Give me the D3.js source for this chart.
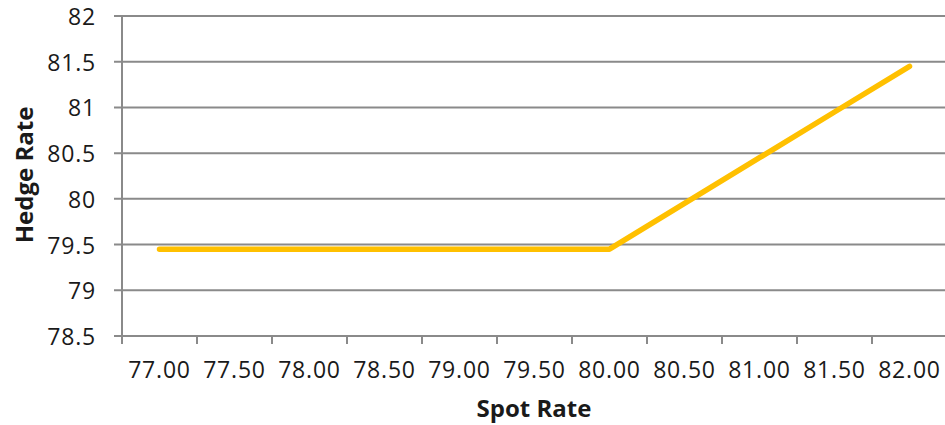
<!DOCTYPE html>
<html>
<head>
<meta charset="utf-8">
<script src="https://cdn.jsdelivr.net/npm/d3@7"></script>
<style>
  html, body { margin: 0; padding: 0; background: #fff; }
  svg { display: block; }
  text { font-family: "Open Sans", sans-serif; fill: #1a1a1a; }
</style>
</head>
<body>
<svg id="chart" width="945" height="425"></svg>
<script>
const spotRates = ["77.00","77.50","78.00","78.50","79.00","79.50","80.00","80.50","81.00","81.50","82.00"];
const hedgeRates = [79.45,79.45,79.45,79.45,79.45,79.45,79.45,79.95,80.45,80.95,81.45];
const yTicks = [78.5,79,79.5,80,80.5,81,81.5,82];
const xTitle = "Spot Rate";
const yTitle = "Hedge Rate";

const svg = d3.select("#chart");
const plotLeft = 122, plotRight = 947, plotTop = 16, plotBottom = 336;

const x = d3.scaleBand().domain(spotRates).range([plotLeft, plotRight]);
const y = d3.scaleLinear().domain([78.5, 82]).range([plotBottom, plotTop]);

const gridColor = "#8a8a8a";

// horizontal gridlines (with y tick marks)
svg.append("g").selectAll("line").data(yTicks).join("line")
  .attr("x1", plotLeft - 8).attr("x2", 945)
  .attr("y1", d => y(d)).attr("y2", d => y(d))
  .attr("stroke", gridColor).attr("stroke-width", 2);

// y axis line
svg.append("line")
  .attr("x1", plotLeft).attr("x2", plotLeft)
  .attr("y1", y(82)).attr("y2", plotBottom + 8)
  .attr("stroke", gridColor).attr("stroke-width", 2);

// x tick marks at band boundaries
svg.append("g").selectAll("line").data(spotRates.slice(1)).join("line")
  .attr("x1", d => x(d)).attr("x2", d => x(d))
  .attr("y1", plotBottom).attr("y2", plotBottom + 8)
  .attr("stroke", gridColor).attr("stroke-width", 2);

// y labels
svg.append("g").selectAll("text").data(yTicks).join("text")
  .attr("x", 96).attr("y", d => y(d))
  .attr("text-anchor", "end").attr("dominant-baseline", "central")
  .attr("font-size", 23).attr("letter-spacing", 0.8)
  .text(d => d3.format("")(d));

// x labels
svg.append("g").selectAll("text").data(spotRates).join("text")
  .attr("x", d => x(d) + x.bandwidth() / 2).attr("y", 378)
  .attr("text-anchor", "middle")
  .attr("font-size", 23).attr("letter-spacing", 0.8)
  .text(d => d);

// titles
svg.append("text")
  .attr("x", 534).attr("y", 417)
  .attr("text-anchor", "middle")
  .attr("font-size", 24).attr("font-weight", "bold")
  .text(xTitle);

svg.append("text")
  .attr("transform", "translate(33,175) rotate(-90)")
  .attr("text-anchor", "middle")
  .attr("font-size", 24).attr("font-weight", "bold")
  .text(yTitle);

// line
const line = d3.line()
  .x((d, i) => x(spotRates[i]) + x.bandwidth() / 2)
  .y(d => y(d));

svg.append("path")
  .datum(hedgeRates)
  .attr("d", line)
  .attr("fill", "none")
  .attr("stroke", "#FFC000")
  .attr("stroke-width", 5.5)
  .attr("stroke-linecap", "round")
  .attr("stroke-linejoin", "round");
</script>
</body>
</html>
